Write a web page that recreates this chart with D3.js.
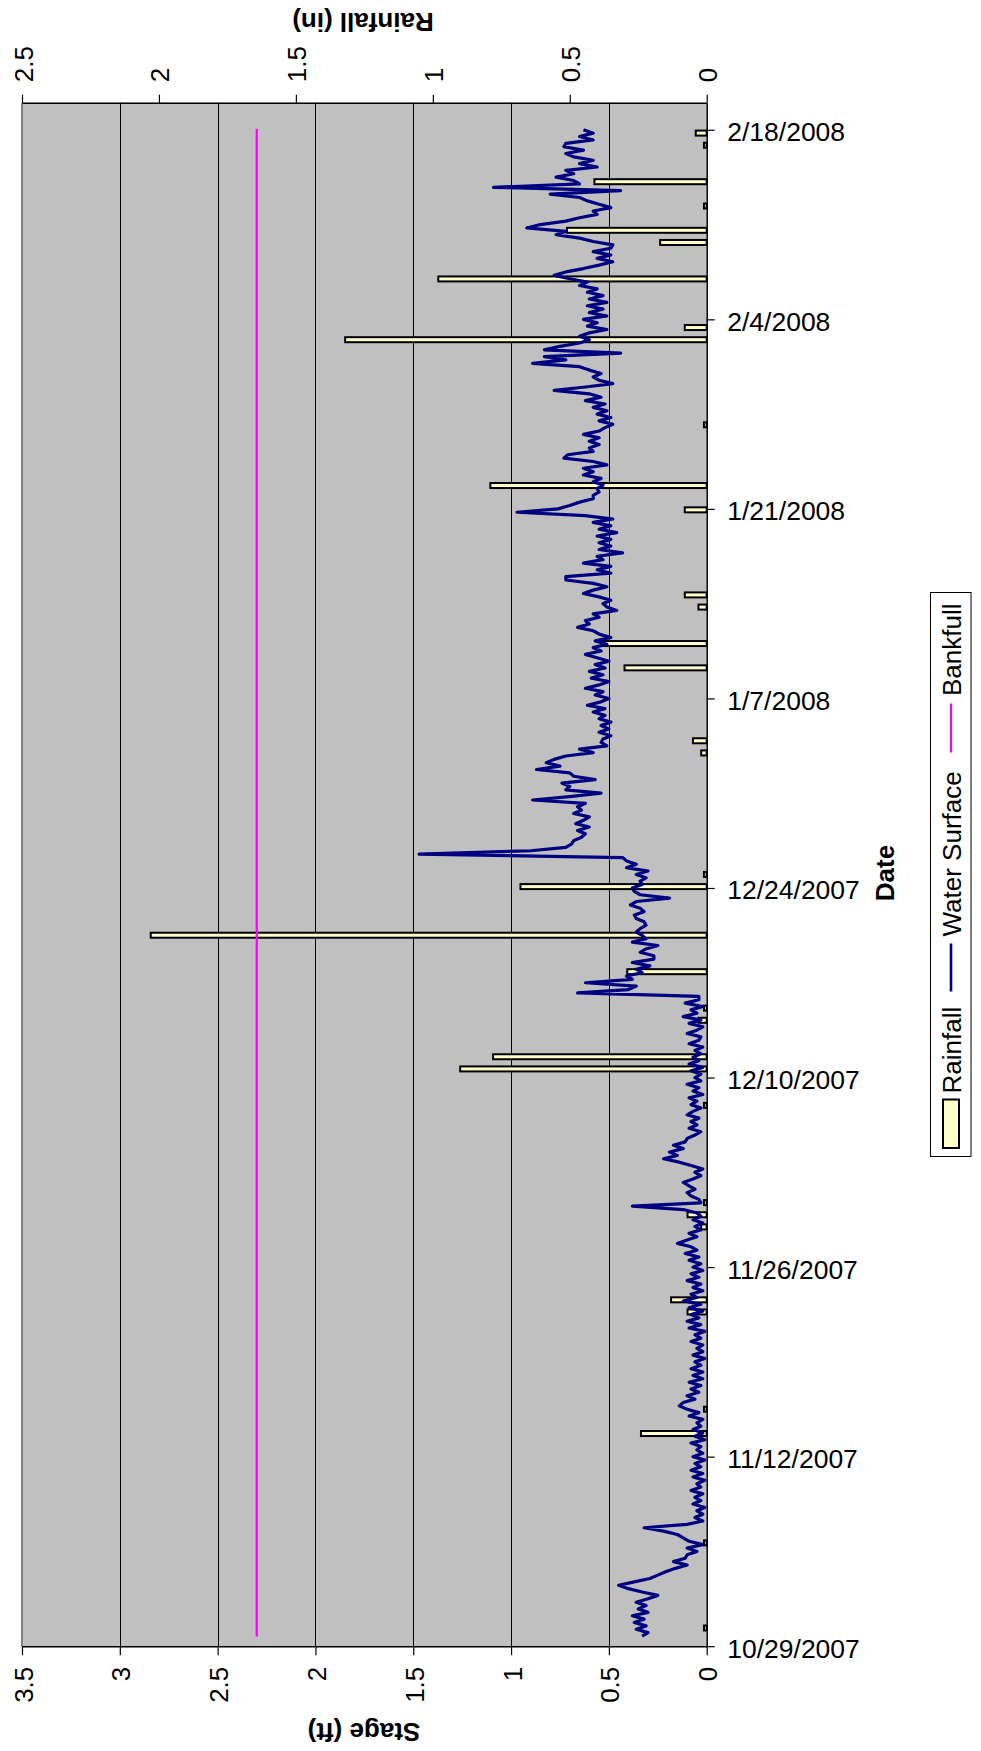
<!DOCTYPE html>
<html><head><meta charset="utf-8">
<script src="https://cdn.jsdelivr.net/npm/d3@7"></script>
<style>
html,body{margin:0;padding:0;background:#fff;}
svg{display:block;font-family:"Liberation Sans",Arial,sans-serif;}
</style></head>
<body><svg id="chart" width="981" height="1751"></svg>
<script>
// ---------------- DATA ----------------
const dateTickLabels = ["10/29/2007","11/12/2007","11/26/2007","12/10/2007","12/24/2007","1/7/2008","1/21/2008","2/4/2008","2/18/2008"];
const dateDomain = ["10/29/2007","2/20/2008"];
const stageTicks = [0,0.5,1,1.5,2,2.5,3,3.5];
const rainTicks = [0,0.5,1,1.5,2,2.5];
const seriesNames = ["Rainfall","Water Surface","Bankfull"];

// Bankfull stage (ft)
const bankfullStage = 2.3;
const bankfullDates = ["2007-10-29T17:00:00Z","2008-02-18T02:00:00Z"];

// Water surface stage (ft), one reading every 6 hours from 10/29/2007 18:00
const wsStart = "2007-10-29T18:00:00Z";
const wsStepHours = 6;
const waterSurface = [
0.33,
0.30,0.36,0.31,0.37, 0.32,0.38,0.30,0.35, 0.31,0.36,0.30,0.25, 0.33,0.40,0.45,0.37,
0.29,0.25,0.21,0.16, 0.10,0.17,0.11,0.10, 0.05,0.10,0.02,0.09, 0.12,0.15,0.22,0.32,
0.10,0.02,0.06,0.02, 0.05,0.01,0.07,0.03, 0.06,0.02,0.08,0.03, 0.05,0.01,0.07,0.02,
0.08,0.03,0.06,0.01, 0.07,0.02,0.05,0.03, 0.08,0.01,0.06,0.02, 0.07,0.03,0.05,0.02,
0.09,0.04,0.10,0.14, 0.12,0.06,0.10,0.04, 0.08,0.03,0.09,0.02, 0.07,0.02,0.08,0.03,
0.06,0.01,0.07,0.02, 0.05,0.02,0.08,0.03, 0.06,0.01,0.09,0.03, 0.10,0.04,0.08,0.02,
0.09,0.03,0.12,0.05, 0.08,0.02,0.07,0.03, 0.10,0.04,0.08,0.02, 0.07,0.03,0.09,0.04,
0.11,0.05,0.08,0.15, 0.10,0.05,0.09,0.03, 0.06,0.02,0.07,0.03, 0.05,0.12,0.38,0.03,
0.04,0.08,0.10,0.06, 0.09,0.12,0.07,0.03, 0.06,0.02,0.08,0.14, 0.22,0.15,0.19,0.12,
0.17,0.11,0.10,0.06, 0.03,0.09,0.05,0.08, 0.04,0.10,0.07,0.03, 0.08,0.05,0.09,0.02,
0.07,0.04,0.10,0.03, 0.06,0.03,0.08,0.02, 0.09,0.04,0.07,0.03, 0.06,0.02,0.09,0.04,
0.03,0.10,0.05,0.02, 0.09,0.03,0.12,0.05, 0.08,0.02,0.11,0.04, 0.04,0.66,0.40,0.36,
0.62,0.38,0.41,0.33, 0.36,0.29,0.38,0.27, 0.27,0.34,0.31,0.25, 0.38,0.31,0.33,0.36,
0.34,0.31,0.32,0.36, 0.37,0.32,0.34,0.39, 0.36,0.19,0.34,0.37, 0.38,0.33,0.34,0.31,
0.36,0.30,0.41,0.36, 0.41,0.43,1.47,0.90, 0.72,0.69,0.68,0.64, 0.62,0.66,0.60,0.67,
0.63,0.60,0.68,0.64, 0.66,0.62,0.89,0.70, 0.54,0.72,0.70,0.74, 0.57,0.68,0.70,0.87,
0.75,0.82,0.78,0.72, 0.58,0.65,0.51,0.54, 0.53,0.49,0.55,0.50, 0.54,0.49,0.55,0.52,
0.58,0.52,0.61,0.54, 0.50,0.57,0.53,0.62, 0.55,0.50,0.59,0.53, 0.60,0.52,0.57,0.50,
0.56,0.62,0.54,0.58, 0.51,0.57,0.49,0.55, 0.58,0.66,0.60,0.62, 0.55,0.58,0.46,0.51,
0.53,0.49,0.55,0.63, 0.58,0.51,0.58,0.72, 0.72,0.49,0.56,0.49, 0.63,0.53,0.56,0.43,
0.55,0.49,0.55,0.49, 0.56,0.46,0.55,0.49, 0.58,0.48,0.62,0.97, 0.76,0.70,0.65,0.58,
0.58,0.55,0.56,0.53, 0.58,0.54,0.63,0.58, 0.63,0.51,0.58,0.73, 0.71,0.58,0.60,0.55,
0.60,0.55,0.63,0.55, 0.52,0.48,0.55,0.49, 0.56,0.51,0.58,0.52, 0.62,0.54,0.60,0.78,
0.62,0.48,0.55,0.58, 0.54,0.60,0.65,0.89, 0.72,0.83,0.44,0.83, 0.75,0.65,0.60,0.65,
0.60,0.51,0.61,0.56, 0.63,0.51,0.60,0.53, 0.61,0.51,0.60,0.53, 0.61,0.56,0.65,0.61,
0.70,0.78,0.72,0.63, 0.55,0.48,0.56,0.49, 0.58,0.49,0.48,0.58, 0.65,0.77,0.72,0.92,
0.85,0.72,0.65,0.56, 0.58,0.49,0.55,0.61, 0.65,0.80,0.44,1.09, 0.65,0.68,0.77,0.68,
0.72,0.56,0.65,0.58, 0.68,0.72,0.63,0.73, 0.72,0.58,0.65,0.58,
0.63
];

// Daily rainfall (in), categories of the (hidden) secondary category axis
const rainfall = [
0,0.01,0,0,0,0,0,0,0.01,0,
0,0,0,0,0,0,0,0.24,0,0.01,
0,0,0,0,0,0,0,0.07,0.13,0,
0,0,0,0,0.02,0.07,0.01,0,0,0,
0,0,0,0,0.01,0,0,0.90,0.78,0,
0,0.03,0.01,0,0,0.29,0,0,2.03,0,
0,0,0.68,0.01,0,0,0,0,0,0,
0,0,0,0.02,0.05,0,0,0,0,0,
0.30,0,0.38,0,0,0.03,0.08,0,0,0,
0,0,0,0.08,0,0.79,0,0,0,0,
0.01,0,0,0,0,0,0,1.32,0.08,0,
0,0,0.98,0,0,0.17,0.51,0,0.01,0,
0.41,0,0,0.01,0.04,0,0
];

// ---------------- CHART ----------------
const svg = d3.select("#chart");
const W = 981, H = 1751;
svg.append("rect").attr("width",W).attr("height",H).attr("fill","#fff");

const P = {left:22, right:706.7, top:102.7, bottom:1646.2};
const parseD = d3.utcParse("%m/%d/%Y");
const FS = 26;

const stageX = d3.scaleLinear().domain([0,3.5]).range([P.right,P.left]);
const rainX = d3.scaleLinear().domain([0,2.5]).range([P.right,P.left]);
const dateY = d3.scaleUtc().domain(dateDomain.map(parseD)).range([P.bottom,P.top]);
const rainBand = d3.scaleBand().domain(d3.range(rainfall.length)).range([P.bottom,P.top]);

// plot background
svg.append("rect").attr("x",P.left).attr("y",P.top)
  .attr("width",P.right-P.left).attr("height",P.bottom-P.top).attr("fill","#c0c0c0");

// gridlines
svg.append("g").selectAll("line").data(stageTicks.filter(d=>d>0 && d<3.5)).join("line")
  .attr("x1",d=>Math.round(stageX(d))+0.5).attr("x2",d=>Math.round(stageX(d))+0.5)
  .attr("y1",P.top).attr("y2",P.bottom).attr("stroke","#000").attr("stroke-width",1);

// left border
svg.append("line").attr("x1",P.left).attr("x2",P.left).attr("y1",P.top).attr("y2",P.bottom)
  .attr("stroke","#808080").attr("stroke-width",2);

// rainfall bars
const barT = 5;
svg.append("g").selectAll("rect").data(rainfall.map((v,i)=>({i,v})).filter(d=>d.v>0)).join("rect")
  .attr("x",d=>rainX(d.v)).attr("width",d=>rainX(0)-rainX(d.v))
  .attr("y",d=>rainBand(d.i)+rainBand.bandwidth()/2-barT/2).attr("height",barT)
  .attr("fill","#ffffcc").attr("stroke","#000").attr("stroke-width",2);

// water surface line
const t0 = new Date(wsStart).getTime();
const wsData = waterSurface.map((v,i)=>({t:new Date(t0+i*wsStepHours*3600000), v}));
const line = d3.line().x(d=>stageX(d.v)).y(d=>dateY(d.t));
svg.append("path").datum(wsData).attr("d",line).attr("fill","none")
  .attr("stroke","#000080").attr("stroke-width",3.2).attr("stroke-linejoin","round");

// bankfull line
const bfData = bankfullDates.map(s=>({t:new Date(s), v:bankfullStage}));
svg.append("path").datum(bfData).attr("d",line).attr("fill","none")
  .attr("stroke","#ff00ff").attr("stroke-width",2.2);

// stage axis (bottom)
const gS = svg.append("g").attr("transform",`translate(0,${P.bottom})`)
  .call(d3.axisBottom(stageX).tickValues(stageTicks).tickSize(9).tickSizeOuter(0).tickFormat(d3.format("")));
gS.select(".domain").attr("stroke","#000").attr("stroke-width",1.5);
gS.selectAll(".tick line").attr("stroke","#000").attr("stroke-width",1.2);
gS.selectAll(".tick text").attr("transform","rotate(-90)").attr("x",-20.5).attr("y",10)
  .attr("dy",null).attr("text-anchor","end").attr("font-size",FS).attr("fill","#000")
  .attr("font-family","'Liberation Sans',Arial,sans-serif");

// rainfall axis (top)
const gR = svg.append("g").attr("transform",`translate(0,${P.top})`)
  .call(d3.axisTop(rainX).tickValues(rainTicks).tickSize(8).tickSizeOuter(0).tickFormat(d3.format("")));
gR.select(".domain").attr("stroke","#000").attr("stroke-width",1.5);
gR.selectAll(".tick line").attr("stroke","#000").attr("stroke-width",1.2);
gR.selectAll(".tick text").attr("transform","rotate(-90)").attr("x",20.5).attr("y",10)
  .attr("dy",null).attr("text-anchor","start").attr("font-size",FS).attr("fill","#000")
  .attr("font-family","'Liberation Sans',Arial,sans-serif");

// date axis (right)
const gD = svg.append("g").attr("transform",`translate(${P.right},0)`)
  .call(d3.axisRight(dateY).tickValues(dateTickLabels.map(parseD)).tickSize(8).tickSizeOuter(0)
    .tickFormat((d,i)=>dateTickLabels[i]));
gD.select(".domain").attr("stroke","#000").attr("stroke-width",1.5);
gD.selectAll(".tick line").attr("stroke","#000").attr("stroke-width",1.2);
gD.selectAll(".tick text").attr("x",20.5).attr("y",11).attr("dy",null)
  .attr("font-size",26.5).attr("fill","#000").attr("text-anchor","start")
  .attr("font-family","'Liberation Sans',Arial,sans-serif");

// axis titles
svg.append("text").attr("transform","translate(364,1722.5) rotate(180)")
  .attr("text-anchor","middle").attr("font-size",FS).attr("font-weight","bold").text("Stage (ft)");
svg.append("text").attr("transform","translate(363,12.5) rotate(180)")
  .attr("text-anchor","middle").attr("font-size",FS).attr("font-weight","bold").text("Rainfall (in)");
svg.append("text").attr("transform","translate(894,873) rotate(-90)")
  .attr("text-anchor","middle").attr("font-size",FS).attr("font-weight","bold").text("Date");

// legend
const lg = svg.append("g");
lg.append("rect").attr("x",930.5).attr("y",592.5).attr("width",40.5).attr("height",564)
  .attr("fill","#fff").attr("stroke","#000").attr("stroke-width",1);
lg.append("rect").attr("x",943).attr("y",1099.5).attr("width",16).attr("height",48.5)
  .attr("fill","#ffffcc").attr("stroke","#000").attr("stroke-width",2);
lg.append("line").attr("x1",951).attr("x2",951).attr("y1",943.5).attr("y2",991.5)
  .attr("stroke","#000080").attr("stroke-width",2.6);
lg.append("line").attr("x1",951).attr("x2",951).attr("y1",703.5).attr("y2",752.5)
  .attr("stroke","#ff00ff").attr("stroke-width",2.2);
const legY = [1093.5, 936.5, 696];
lg.selectAll("text").data(seriesNames).join("text")
  .attr("transform",(d,i)=>`translate(961,${legY[i]}) rotate(-90)`)
  .attr("text-anchor","start").attr("font-size",FS).attr("fill","#000").text(d=>d);
</script>
</body></html>
